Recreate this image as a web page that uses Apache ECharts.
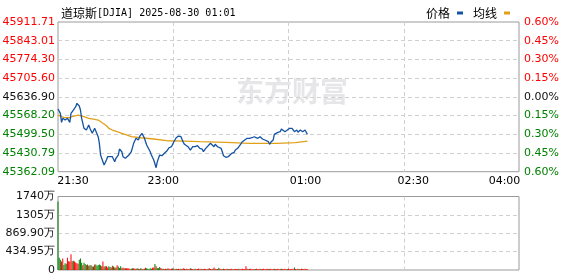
<!DOCTYPE html>
<html><head><meta charset="utf-8">
<script src="https://cdn.jsdelivr.net/npm/echarts@6/dist/echarts.min.js"></script>
<style>html,body{margin:0;padding:0;background:#fff}#c{width:578px;height:276px}</style>
</head><body><div id="c"></div>
<script>
// ---- data ----
var titleName = '道琼斯';
var titleRest = '[DJIA] 2025-08-30 01:01';
var xTickLabels = ['21:30', '23:00', '01:00', '02:30', '04:00'];
var priceTicks = ['45362.09', '45430.79', '45499.50', '45568.20', '45636.90', '45705.60', '45774.30', '45843.01', '45911.71'];
var pctTicks = ['0.60%', '0.45%', '0.30%', '0.15%', '0.00%', '0.15%', '0.30%', '0.45%', '0.60%'];
var volTicks = ['0', '434.95万', '869.90万', '1305万', '1740万'];
var priceMinOfAxis = 45362.09, priceMaxOfAxis = 45911.71;
var volMaxOfAxis = 1739.8;

var priceMinutes = [0,2,3,4,6,8,10,11,13,15,16,17,18,19,20,22,24,26,27,29,31,32,34,35,36,38,39,41,42,43,46,48,49,51,52,54,55,57,58,60,62,64,66,68,69,71,72,73,74,75,78,79,81,82,83,84,86,88,90,92,94,96,98,100,102,104,105,106,107,110,112,114,116,118,120,122,123,125,126,129,130,132,133,135,136,138,139,140,142,144,145,147,149,150,152,154,156,158,160,162,164,166,169,171,173,175,176,178,179,180,182,183,186,188,189,190,192,194,196,198,200,202,203,205,207,209,210,211];
var priceValues = [45592.2,45576.4,45543.4,45558.1,45551.8,45558.1,45543.4,45576.4,45588.6,45600.7,45613.2,45610.0,45603.3,45588.6,45558.1,45521.4,45515.1,45533.5,45521.4,45503.0,45521.4,45527.2,45490.5,45466.3,45423.3,45398.7,45386.6,45405.0,45417.1,45411.2,45417.1,45398.7,45411.2,45423.3,45445.4,45435.4,45417.1,45411.2,45405.0,45423.3,45435.4,45466.3,45484.6,45478.4,45490.5,45503.0,45508.9,45486.8,45484.6,45460.0,45435.4,45423.3,45405.0,45398.7,45376.7,45398.7,45423.3,45420.8,45429.6,45438.0,45450.1,45453.8,45472.2,45486.8,45493.1,45490.5,45480.0,45470.0,45462.6,45453.8,45441.7,45453.8,45453.8,45457.5,45447.9,45445.4,45435.4,45447.9,45441.7,45466.3,45460.0,45453.8,45462.6,45453.8,45457.5,45447.9,45435.4,45420.8,45414.9,45417.1,45423.3,45429.6,45433.2,45441.7,45447.9,45460.0,45472.2,45478.4,45484.6,45484.6,45486.8,45490.5,45484.6,45490.5,45482.1,45478.4,45482.1,45472.2,45462.6,45470.0,45478.4,45499.3,45506.7,45508.9,45518.8,45515.1,45508.9,45515.1,45521.4,45521.4,45508.9,45515.1,45506.7,45515.1,45508.9,45515.1,45508.9,45499.3];

var avgMinutes = [0,1,5,10,12,17,22,26,30,34,38,41,43,46,50,54,58,62,70,81,92,107,120,142,143,162,185,186,201,202,211];
var avgValues = [45570.0,45566.5,45560.3,45560.3,45564.0,45570.2,45564.0,45558.1,45555.0,45551.8,45539.7,45530.9,45521.4,45515.1,45508.9,45503.0,45497.0,45490.5,45486.8,45482.1,45475.8,45474.7,45472.2,45470.0,45466.3,45466.3,45466.3,45468.5,45468.5,45474.7,45474.7];

// volume per minute (万), minute 0..211
var volValues = [1620,290,240,200,270,120,160,150,290,210, 200,370,210,220,200,180,160,150,240,270,
 170,110,170,140,120,130,100,110,110,80, 80,130,130,100,120,130,110,90,200,80,
 90,90,60,90,70,60,100,80,60,60, 110,80,50,90,40,60,40,40,40,40,
 40,20,30,40,40,30,
 30,40,30,20,40,30,20,30,55,40, 30,20,40,30,55,60,140,90,50,40,
 70,50,30,30,20,30,25,40,30,20, 30,40,30,20,30,25,30,20,30,25,
 40,30,20,30,25,20,40,30,25,20, 30,20,25,35,20,30,25,20,30,25,
 20,30,40,25,20,30,60,30,20,25, 55,30,25,20,30,25,20,30,25,20,
 25,30,20,25,30,20,25,30,20,25, 30,20,25,90,30,20,25,30,20,25,
 20,25,30,20,25,30,20,25,30,20, 25,30,20,25,30,20,25,30,20,25,
 30,20,25,30,20,25,30,20,25,30, 20,25,30,20,60,25,20,30,25,20, 30,25,20,30,25,20];
var volDir = ('gggrrgggrr' + 'rrrgrrrrgg' + 'grggrggrgr' + 'grgggggrrr' + 'grrggrgrgr' + 'rgggrrgrrr' + 'rrggrr' +
  'rgrggrrgrg' + 'ggggrrgrgg' + 'grrgrrgrrr' + 'rgrrgrrrgr' + 'rrgrrrgrrr' + 'grrrgrrgrr' + 'rgrrrgrrrg' +
  'grrrgrrrgr' + 'rrgrrrrgrr' + 'rrrrrgrrrr' + 'rgrrrrgrrr' + 'rrgrrrrgrr' + 'rrrgrrrrgr' + 'rrrrgrrrgr' + 'rrgrrr').split('');

// ---- build ----
var RED = '#ff0000', GREEN = '#008000', DARK = '#111';
var priceData = priceMinutes.map(function (m, i) { return [m, priceValues[i]]; });
var avgData = avgMinutes.map(function (m, i) { return [m, avgValues[i]]; });
var volData = volValues.map(function (v, i) { return [i, v]; });
var fontNum = '"DejaVu Sans", sans-serif';
var fontCJK = '"Noto Sans CJK SC", sans-serif';
var dashed = { show: true, showMinLine: false, showMaxLine: false, lineStyle: { color: '#d0d0d0', type: [4, 3], width: 1 } };
var xRich = {
  a: { padding: [0, 0, 0, 30] },
  b: { padding: [0, 20, 0, 0] },
  c: { padding: [0, 0, 0, 34] },
  d: { padding: [0, 0, 0, 19] },
  e: { padding: [0, 29, 0, 0] }
};
var xKeys = ['a', 'b', 'c', 'd', 'e'];

var chart = echarts.init(document.getElementById('c'), null, { renderer: 'canvas' });
chart.setOption({
  animation: false,
  backgroundColor: '#fff',
  title: {
    left: 56, top: 2,
    text: '{n|' + titleName + '}{r|' + titleRest + '}',
    textStyle: {
      fontWeight: 'normal',
      rich: {
        n: { fontFamily: fontCJK, fontSize: 12, fontWeight: 'normal', color: '#000' },
        r: { fontFamily: '"DejaVu Sans Mono", monospace', fontSize: 10, fontWeight: 'normal', color: '#000' }
      }
    }
  },
  legend: {
    right: 63, top: 2, align: 'right', icon: 'rect', itemWidth: 6, itemHeight: 3, itemGap: 10,
    data: ['价格', '均线'],
    textStyle: { fontFamily: fontCJK, fontSize: 12, color: '#000', padding: [0, 2, 0, 0] }
  },
  graphic: [{
    type: 'text', left: 236, top: 77, silent: true, z: -10,
    style: { text: '东方财富', fill: '#e6e6e8', font: 'bold 28px "Noto Sans CJK SC"' }
  }],
  grid: [
    { left: 58, right: 59, top: 22, height: 149.7, show: true, borderColor: '#9a9a9a', borderWidth: 1, backgroundColor: 'transparent', outerBoundsMode: 'none' },
    { left: 58, right: 59, top: 196.5, bottom: 6, show: true, borderColor: '#9a9a9a', borderWidth: 1, backgroundColor: 'transparent', outerBoundsMode: 'none' }
  ],
  xAxis: [
    {
      gridIndex: 0, type: 'value', min: 0, max: 390, interval: 97.5,
      axisLine: { show: false }, axisTick: { show: false },
      axisLabel: {
        margin: 4, fontFamily: fontNum, fontSize: 11, color: '#000',
        formatter: function (v) { var k = Math.round(v / 97.5); return '{' + xKeys[k] + '|' + xTickLabels[k] + '}'; },
        rich: xRich
      },
      splitLine: dashed
    },
    {
      gridIndex: 1, type: 'value', min: 0, max: 390, interval: 97.5,
      axisLine: { show: false }, axisTick: { show: false }, axisLabel: { show: false },
      splitLine: dashed
    }
  ],
  yAxis: [
    {
      gridIndex: 0, type: 'value', position: 'left', min: -4, max: 4, interval: 1,
      axisLine: { show: false }, axisTick: { show: false },
      axisLabel: {
        margin: 3, fontFamily: fontNum, fontSize: 11,
        formatter: function (v) { return priceTicks[Math.round(v) + 4]; },
        color: function (v) { v = Math.round(v); return v > 0 ? RED : (v < 0 ? GREEN : DARK); }
      },
      splitLine: dashed
    },
    {
      gridIndex: 0, type: 'value', position: 'right', min: -4, max: 4, interval: 1,
      axisLine: { show: false }, axisTick: { show: false },
      axisLabel: {
        margin: 5, fontFamily: fontNum, fontSize: 11,
        formatter: function (v) { return pctTicks[Math.round(v) + 4]; },
        color: function (v) { v = Math.round(v); return v > 0 ? RED : (v < 0 ? GREEN : DARK); }
      },
      splitLine: { show: false }
    },
    {
      gridIndex: 0, type: 'value', show: false, min: priceMinOfAxis, max: priceMaxOfAxis, scale: true,
      splitLine: { show: false }
    },
    {
      gridIndex: 1, type: 'value', min: 0, max: volMaxOfAxis, interval: 434.95,
      axisLine: { show: false }, axisTick: { show: false },
      axisLabel: {
        margin: 3, fontFamily: fontNum, fontSize: 11, color: DARK,
        formatter: function (v) { return volTicks[Math.round(v / 434.95)]; }
      },
      splitLine: dashed
    }
  ],
  series: [
    {
      name: '价格', type: 'line', xAxisIndex: 0, yAxisIndex: 2, data: priceData,
      showSymbol: false, symbol: 'none', color: '#1452a3',
      lineStyle: { color: '#1452a3', width: 1.3 }, z: 3
    },
    {
      name: '均线', type: 'line', xAxisIndex: 0, yAxisIndex: 2, data: avgData,
      showSymbol: false, symbol: 'none', color: '#e0a01a',
      lineStyle: { color: '#e0a01a', width: 1.3 }, z: 2
    },
    {
      name: '成交量', type: 'bar', xAxisIndex: 1, yAxisIndex: 3, data: volData, barWidth: 1,
      itemStyle: { color: function (p) { return volDir[p.dataIndex] === 'r' ? RED : GREEN; } }
    }
  ]
});
</script>
</body></html>
